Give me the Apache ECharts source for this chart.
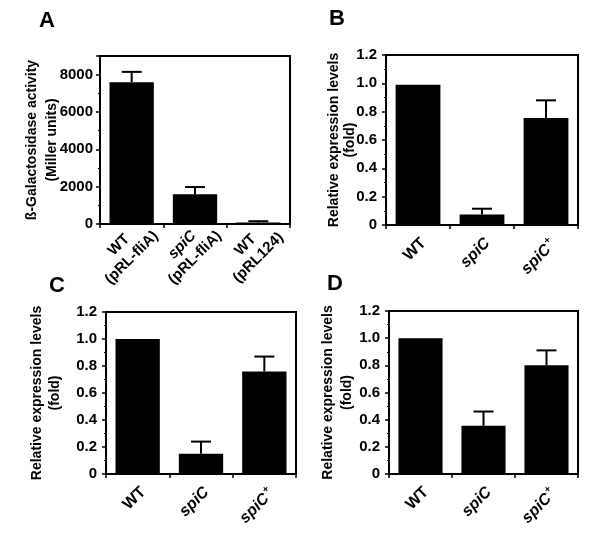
<!DOCTYPE html>
<html>
<head>
<meta charset="utf-8">
<script src="https://cdn.jsdelivr.net/npm/echarts@6/dist/echarts.min.js"></script>
<style>html,body{margin:0;padding:0;background:#fff;}#c{width:600px;height:547px;}</style>
</head>
<body>
<div id="c"></div>
<script>
// Panel A
var catsA = ['WT\n(pRL-fliA)', 'spiC\n(pRL-fliA)', 'WT\n(pRL124)'];
var valsA = [7600, 1600, 80];
var errA = [8150, 1980, 150];
var ticksA = [0, 2000, 4000, 6000, 8000];
// Panels B, C, D share categories
var catsBCD = ['WT', 'spiC', 'spiC+'];
var valsB = [0.99, 0.075, 0.755];
var errB = [0.99, 0.115, 0.88];
var valsC = [1.0, 0.15, 0.76];
var errC = [1.0, 0.24, 0.87];
var valsD = [1.0, 0.355, 0.80];
var errD = [1.0, 0.46, 0.91];
var ticksBCD = [0, 0.2, 0.4, 0.6, 0.8, 1.0, 1.2];
var panelLetters = ['A', 'B', 'C', 'D'];

var FONT = '"Liberation Sans", Arial, Helvetica, sans-serif';
var chart = echarts.init(document.getElementById('c'), null, {renderer: 'canvas'});

var grids = [
  {left: 100, top: 56, width: 190, height: 168},
  {left: 386, top: 55, width: 192, height: 170},
  {left: 106, top: 312, width: 190, height: 162},
  {left: 389, top: 311, width: 189, height: 163}
];
var nameGaps = [38, 28, 42, 32];
var nameLH = [20, 16, 18, 19];
var yNames = ['ß-Galactosidase activity\n(Miller units)', 'Relative expression levels\n(fold)', 'Relative expression levels\n(fold)', 'Relative expression levels\n(fold)'];
var letterPos = [[47, 22], [337, 20], [57, 287], [335, 285]];

function xLabelFmt(v) {
  if (v === 'spiC') return '{it|spiC}';
  if (v === 'spiC+') return '{it|spiC}{sup|+}';
  if (v.indexOf('\n') >= 0) {
    var parts = v.split('\n');
    var first = parts[0] === 'spiC' ? '{itc|spiC}' : '{c|' + parts[0] + '}';
    return first + '\n{c|' + parts[1] + '}';
  }
  return v;
}

var richX = {
  it: {fontStyle: 'italic', fontWeight: 'bold', fontSize: 16, fontFamily: FONT, color: '#000'},
  sup: {fontWeight: 'bold', fontSize: 10, fontFamily: FONT, color: '#000', verticalAlign: 'top', padding: [0, 0, 11, 1]},
  c: {align: 'center', fontWeight: 'bold', fontSize: 15, fontFamily: FONT, color: '#000', lineHeight: 18},
  itc: {align: 'center', fontStyle: 'italic', fontWeight: 'bold', fontSize: 15, fontFamily: FONT, color: '#000', lineHeight: 18}
};

var xAxes = [], yAxes = [], series = [], graphics = [];
var allCats = [catsA, catsBCD, catsBCD, catsBCD];
var allVals = [valsA, valsB, valsC, valsD];
var allErr = [errA, errB, errC, errD];

for (var i = 0; i < 4; i++) {
  var isA = i === 0;
  var xl = {rotate: 45, color: '#000', fontWeight: 'bold', fontSize: isA ? 15 : 16, fontFamily: FONT,
      formatter: xLabelFmt, rich: richX, interval: 0};
  if (isA) { xl.margin = 21; xl.align = 'center'; xl.verticalAlign = 'middle'; xl.padding = [0, 18, 0, 0]; }
  else { xl.margin = 10; xl.align = 'right'; xl.verticalAlign = 'top'; }
  xAxes.push({
    type: 'category', gridIndex: i, data: allCats[i],
    axisLine: {lineStyle: {color: '#000', width: 2}},
    axisTick: {show: true, inside: false, length: 4, lineStyle: {color: '#000', width: 1.5}},
    axisLabel: xl
  });
  yAxes.push({
    type: 'value', gridIndex: i, min: 0, max: isA ? 9000 : 1.2, interval: isA ? 2000 : 0.2,
    name: yNames[i], nameLocation: 'middle', nameGap: nameGaps[i], nameMoveOverlap: false,
    nameTextStyle: {color: '#000', fontWeight: 'bold', fontSize: 14, fontFamily: FONT, lineHeight: nameLH[i], align: 'center'},
    axisLine: {show: true, lineStyle: {color: '#000', width: 2}},
    axisTick: {show: true, length: 4, lineStyle: {color: '#000', width: 1.5}},
    minorTick: {show: true, splitNumber: 2, length: 2, lineStyle: {color: '#000', width: 1}},
    splitLine: {show: false},
    axisLabel: {color: '#000', fontWeight: 'bold', fontSize: 15, fontFamily: FONT, margin: isA ? 7 : 9,
      formatter: (function (a) {
        return function (v) {
          if (a) { return ticksA.indexOf(v) >= 0 ? String(v) : ''; }
          var r = Math.round(v * 10) / 10;
          var found = ticksBCD.some(function (t) { return Math.abs(t - r) < 1e-9; });
          if (!found) return '';
          return r === 0 ? '0' : r.toFixed(1);
        };
      })(isA)}
  });
  series.push({
    type: 'bar', xAxisIndex: i, yAxisIndex: i, data: allVals[i], barWidth: '70%',
    itemStyle: {color: '#000'}, silent: true, animation: false
  });
  var errData = allVals[i].map(function (v, k) { return [k, v, allErr[i][k]]; }).filter(function (d) { return d[2] > d[1]; });
  series.push({
    type: 'custom', xAxisIndex: i, yAxisIndex: i, data: errData, animation: false, silent: true, z: 5,
    renderItem: function (params, api) {
      var x = api.value(0), v = api.value(1), e = api.value(2);
      var p0 = api.coord([x, v]);
      var p1 = api.coord([x, e]);
      var hw = 10;
      return {
        type: 'group', children: [
          {type: 'line', shape: {x1: p0[0], y1: p0[1], x2: p1[0], y2: p1[1]}, style: {stroke: '#000', lineWidth: 2}},
          {type: 'line', shape: {x1: p1[0] - hw, y1: p1[1], x2: p1[0] + hw, y2: p1[1]}, style: {stroke: '#000', lineWidth: 2}}
        ]
      };
    }
  });
  graphics.push({
    type: 'text', left: letterPos[i][0] - 8, top: letterPos[i][1] - 12,
    style: {text: panelLetters[i], fill: '#000', font: 'bold 22px ' + FONT}
  });
}

var gridOpts = grids.map(function (g) {
  return {left: g.left, top: g.top, width: g.width, height: g.height, show: true, borderColor: '#000', borderWidth: 2, backgroundColor: 'transparent', containLabel: false};
});

chart.setOption({
  animation: false,
  backgroundColor: '#fff',
  grid: gridOpts,
  xAxis: xAxes,
  yAxis: yAxes,
  series: series,
  graphic: graphics
});
</script>
</body>
</html>
